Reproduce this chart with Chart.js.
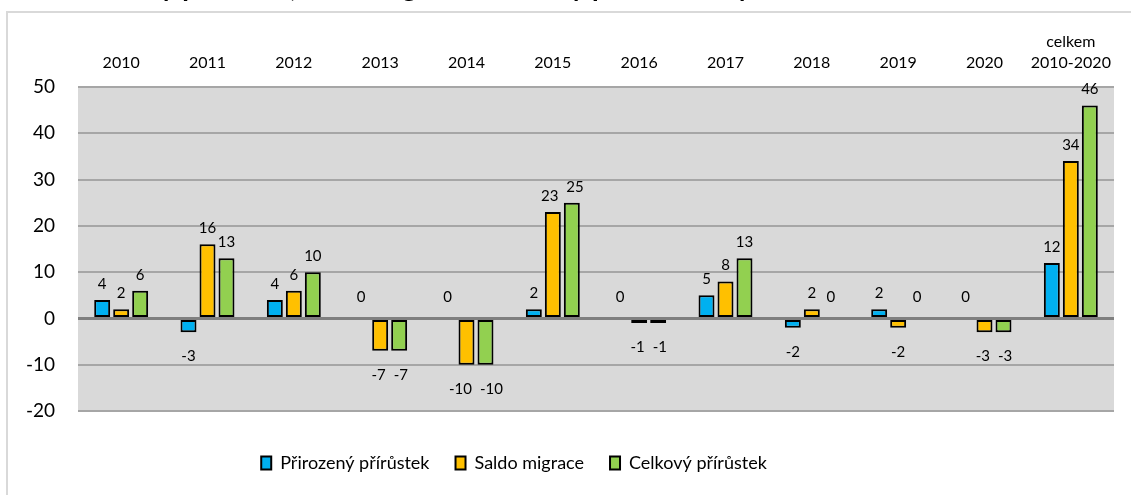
<!DOCTYPE html>
<html lang="cs">
<head>
<meta charset="utf-8">
<title>Přirozený přírůstek, saldo migrace a celkový přírůstek</title>
<script src="https://cdn.jsdelivr.net/npm/chart.js@4.4.1/dist/chart.umd.min.js"></script>
<style>
    html, body { margin: 0; padding: 0; background: #fff; overflow: hidden; }
    .wrap { position: relative; width: 1131px; height: 495px; }
    .frame {
        position: absolute; left: 6px; top: 11px; width: 1200px; height: 600px;
        border: 2px solid #d9d9d9; box-sizing: border-box;
    }
    canvas { position: absolute; left: 0; top: 0; }
</style>
</head>
<body>
<div class="wrap">
    <div class="frame"></div>
    <canvas id="chart" width="1131" height="495"></canvas>
</div>
<script>
const titleText = 'Přirozený přírůstek, saldo migrace a celkový přírůstek obyvatel v letech 2010–2020';

const categories = ['2010', '2011', '2012', '2013', '2014', '2015', '2016', '2017', '2018', '2019', '2020', ['celkem', '2010-2020']];
const seriesNames = ['Přirozený přírůstek', 'Saldo migrace', 'Celkový přírůstek'];

const natural = [4, -3, 4, 0, 0, 2, 0, 5, -2, 2, 0, 12];
const migration = [2, 16, 6, -7, -10, 23, -1, 8, 2, -2, -3, 34];
const total = [6, 13, 10, -7, -10, 25, -1, 13, 0, 0, -3, 46];

const yTicks = [50, 40, 30, 20, 10, 0, -10, -20];

const colors = ['#00b0f0', '#ffc000', '#92d050'];
const FONT = 'Lato, "Open Sans", sans-serif';

// plot background + title (cut off by the top edge, as in the source)
const backdrop = {
    id: 'backdrop',
    beforeDraw(chart) {
        const { ctx, chartArea: a } = chart;
        ctx.save();
        ctx.fillStyle = '#d9d9d9';
        ctx.fillRect(a.left, a.top, a.right - a.left, a.bottom - a.top);
        ctx.fillStyle = '#000';
        ctx.font = 'bold 27px ' + FONT;
        ctx.textAlign = 'center';
        ctx.textBaseline = 'alphabetic';
        ctx.fillText(titleText, 560, -3);
        ctx.restore();
    }
};

// legend sits a bit left of centre in the source
const legendShift = {
    id: 'legendShift',
    afterLayout(chart) {
        chart.legend.left -= 86;
    }
};

// value labels next to each bar, nudged apart when neighbours collide
const valueLabels = {
    id: 'valueLabels',
    afterDatasetsDraw(chart) {
        const { ctx } = chart;
        ctx.save();
        ctx.fillStyle = '#000';
        ctx.font = '15px ' + FONT;
        ctx.textAlign = 'center';
        ctx.textBaseline = 'middle';
        categories.forEach((_, j) => {
            const items = chart.data.datasets.map((ds, i) => {
                const bar = chart.getDatasetMeta(i).data[j];
                const v = ds.data[j];
                let y;
                if (v > 0) y = bar.y - 16;
                else if (v < 0) y = bar.y + 24;
                else y = bar.y - 21;
                const text = String(v);
                return { text, x: bar.x, y, w: ctx.measureText(text).width };
            });
            for (let k = 0; k < items.length - 1; k++) {
                const a = items[k], b = items[k + 1];
                if (Math.abs(a.y - b.y) > 12) continue;
                const overlap = (a.x + a.w / 2 + 8) - (b.x - b.w / 2);
                if (overlap > 0) {
                    a.x -= overlap / 2;
                    b.x += overlap / 2;
                }
            }
            items.forEach(it => ctx.fillText(it.text, it.x, it.y));
        });
        ctx.restore();
    }
};

const datasets = [natural, migration, total].map((d, i) => ({
    label: seriesNames[i],
    data: d,
    backgroundColor: colors[i],
    borderColor: '#000',
    borderWidth: 2,
    borderSkipped: false,
    categoryPercentage: 0.66,
    barPercentage: 0.84
}));

new Chart(document.getElementById('chart'), {
    type: 'bar',
    data: { labels: categories, datasets },
    options: {
        responsive: false,
        animation: false,
        devicePixelRatio: 1,
        layout: { padding: { left: 0, right: 17, top: 0, bottom: 13 } },
        plugins: {
            legend: {
                position: 'bottom',
                title: {
                    display: true,
                    text: ' ',
                    font: { size: 10, lineHeight: 1 },
                    padding: { top: 2, bottom: 5 }
                },
                labels: {
                    color: '#000',
                    font: { family: FONT, size: 18 },
                    boxWidth: 10,
                    boxHeight: 13,
                    padding: 26
                }
            },
            tooltip: { enabled: false }
        },
        scales: {
            x: {
                position: 'top',
                grid: { display: false },
                border: { display: false },
                ticks: {
                    color: '#000',
                    font: { family: FONT, size: 16, lineHeight: 1.35 },
                    padding: 5,
                    maxRotation: 0
                },
                afterFit(scale) { scale.height = 87; }
            },
            y: {
                min: -20,
                max: 50,
                grid: {
                    drawTicks: false,
                    color: (c) => c.tick && c.tick.value === 0 ? '#7f7f7f' : '#a6a6a6',
                    lineWidth: (c) => c.tick && c.tick.value === 0 ? 3 : 2
                },
                border: { display: false },
                afterBuildTicks(scale) { scale.ticks = yTicks.map(v => ({ value: v })); },
                ticks: {
                    color: '#000',
                    font: { family: FONT, size: 19 },
                    padding: 23
                },
                afterFit(scale) { scale.width = 78; }
            }
        }
    },
    plugins: [backdrop, legendShift, valueLabels]
});
</script>
</body>
</html>
